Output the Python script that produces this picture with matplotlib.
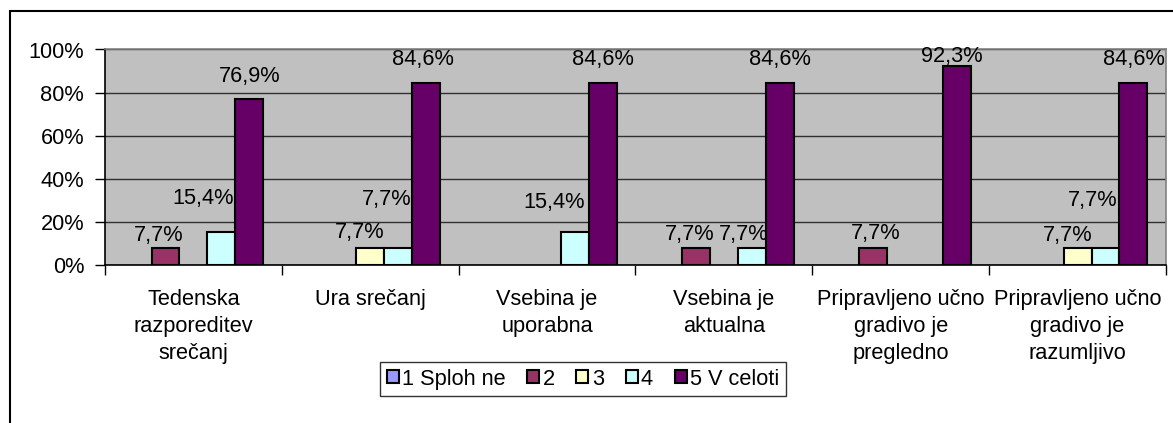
import numpy as np
import matplotlib.pyplot as plt
from matplotlib.patches import Rectangle, Patch

plt.rcParams['font.family'] = ['Liberation Sans', 'DejaVu Sans']

categories = ['Tedenska\nrazporeditev\nsrečanj', 'Ura srečanj', 'Vsebina je\nuporabna',
              'Vsebina je\naktualna', 'Pripravljeno učno\ngradivo je\npregledno',
              'Pripravljeno učno\ngradivo je\nrazumljivo']
series_names = ['1 Sploh ne', '2', '3', '4', '5 V celoti']
s1 = [0, 0, 0, 0, 0, 0]
s2 = [7.7, 0, 0, 7.7, 7.7, 0]
s3 = [0, 7.7, 0, 0, 0, 7.7]
s4 = [15.4, 7.7, 15.4, 7.7, 0, 7.7]
s5 = [76.9, 84.6, 84.6, 84.6, 92.3, 84.6]
series = [s1, s2, s3, s4, s5]
colors = ['#9999FF', '#993366', '#FFFFCC', '#CCFFFF', '#660066']

# label nudges in pixels (dx, dy from bar top) -- mimics Excel's placement
nudge = {
    (0, 1): (-7, 13), (0, 3): (-18, 33), (0, 4): (0, 23),
    (1, 2): (-11, 16), (1, 3): (-12, 49), (1, 4): (-3, 23),
    (2, 3): (-21, 29), (2, 4): (0, 23),
    (3, 1): (-6, 14), (3, 3): (-8, 14), (3, 4): (0, 23),
    (4, 1): (3, 15), (4, 4): (-5, 10),
    (5, 2): (-10, 13), (5, 3): (-13, 48), (5, 4): (0, 23),
}

W, H = 1173, 423
fig = plt.figure(figsize=(W / 100, H / 100), dpi=100)
ax = fig.add_axes([105 / W, (H - 265) / H, (1166 - 105) / W, (265 - 49.5) / H])
ax.set_facecolor('#C0C0C0')

x = np.arange(len(categories))
bw = 0.158
fs = 15.7
for j, vals in enumerate(series):
    pos = x + (j - 2) * bw
    v = np.array(vals, dtype=float)
    mask = v > 0
    ax.bar(pos[mask], v[mask], width=bw, color=colors[j], edgecolor='black',
           linewidth=1.5, zorder=3)
    for i in np.where(mask)[0]:
        dx, dy = nudge.get((i, j), (0, 14))
        ax.annotate(f'{v[i]:.1f}%'.replace('.', ','), (pos[i], v[i]),
                    xytext=(dx, dy), textcoords='offset pixels',
                    ha='center', va='center', fontsize=fs, zorder=4)

ax.set_xlim(-0.5, len(categories) - 0.5)
ax.set_ylim(0, 100)
ax.set_yticks([0, 20, 40, 60, 80, 100])
ax.set_yticklabels([f'{t}%' for t in range(0, 101, 20)], fontsize=fs)
ax.yaxis.grid(True, color='#303030', linewidth=1, zorder=1)
ax.set_axisbelow(True)

ax.set_xticks(np.arange(len(categories) + 1) - 0.5)
ax.set_xticklabels([])
ax.set_xticks(x, minor=True)
ax.set_xticklabels(categories, minor=True, fontsize=fs, linespacing=1.38)
ax.tick_params(axis='x', which='minor', length=0, pad=17)
ax.tick_params(axis='x', which='major', length=7, width=1, direction='out')
ax.tick_params(axis='y', length=7, width=1, pad=8)

for s in ['left', 'bottom']:
    ax.spines[s].set_color('black')
    ax.spines[s].set_linewidth(1.2)
for s in ['top', 'right']:
    ax.spines[s].set_color('#808080')
    ax.spines[s].set_linewidth(1.2)

handles = [Patch(facecolor=c, edgecolor='black', linewidth=1.5) for c in colors]
leg = fig.legend(handles, series_names, loc='center', bbox_to_anchor=(583 / W, (H - 379) / H),
                 ncol=5, fontsize=fs, frameon=True, fancybox=False, shadow=False,
                 handlelength=0.55, handleheight=0.55, handletextpad=0.15,
                 columnspacing=1.0, borderpad=0.3, borderaxespad=0)
leg.get_frame().set_edgecolor('black')
leg.get_frame().set_linewidth(1)

fig.add_artist(Rectangle((10 / W, -0.05), 1.2, (H - 11) / H + 0.05, transform=fig.transFigure,
                         fill=False, edgecolor='black', linewidth=1.5))

fig.savefig('out.png', dpi=100, facecolor='white')
